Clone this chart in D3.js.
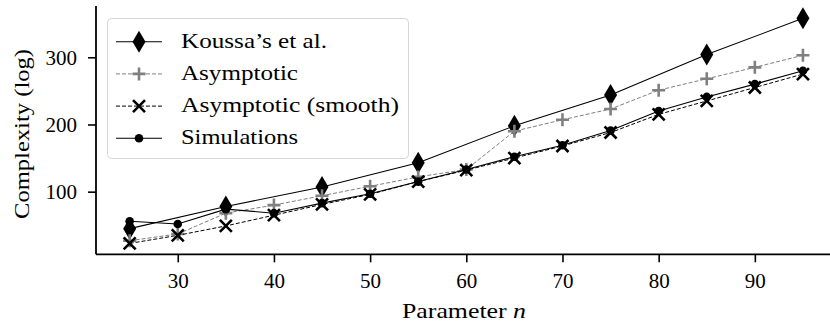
<!DOCTYPE html>
<html>
<head>
<meta charset="utf-8">
<style>
  body { margin: 0; background: #fff; }
  svg { display: block; }
  text { font-family: "Liberation Serif", "DejaVu Serif", serif; fill: #000; }
</style>
<script src="https://d3js.org/d3.v7.min.js"></script>
</head>
<body>
<svg id="chart" width="830" height="327"></svg>
<script>
// data
var nAll = [25, 30, 35, 40, 45, 50, 55, 60, 65, 70, 75, 80, 85, 90, 95];
var nKoussa = [25, 35, 45, 55, 65, 75, 85, 95];
var koussa = [45, 78, 107, 143, 198, 244, 304, 358];
var asymptotic = [27, 37, 68, 80, 94, 108, 122, 133, 190, 207, 223, 251, 268, 285, 303];
var asymSmooth = [23, 35, 49, 65, 81, 96, 115, 132, 150, 168, 188, 215, 235, 255, 275];
var simulations = [56, 52, 74, 68, 83, 97, 115, 133, 152, 169, 191, 220, 241, 260, 280];
var xTicks = [30, 40, 50, 60, 70, 80, 90];
var yTicks = [100, 200, 300];
var seriesNames = ["Koussa\u2019s et al.", "Asymptotic", "Asymptotic (smooth)", "Simulations"];
var nameWidths = [146, 117, 218, 117];

var FS = "21px";
var svg = d3.select("#chart");

var x = d3.scaleLinear().domain([21.5, 98.5]).range([96, 836.6]);
var y = d3.scaleLinear().domain([6.8, 376.3]).range([254.3, 6]);

// axes (left + bottom only)
var xAxis = svg.append("g")
    .attr("transform", "translate(0," + y.range()[0] + ")")
    .call(d3.axisBottom(x).tickValues(xTicks).tickSize(8).tickPadding(6).tickFormat(d3.format("d")));
var yAxis = svg.append("g")
    .attr("transform", "translate(" + x.range()[0] + ",0)")
    .call(d3.axisLeft(y).tickValues(yTicks).tickSize(8).tickPadding(11).tickFormat(d3.format("d")));

[xAxis, yAxis].forEach(function (a) {
    a.attr("font-family", null).attr("font-size", null);
    a.select(".domain").attr("stroke", "#000").attr("stroke-width", 1.8);
    a.selectAll(".tick line").attr("stroke", "#000").attr("stroke-width", 1.6);
    a.selectAll(".tick text").style("font-size", FS);
});
xAxis.selectAll(".tick text").attr("y", 34).attr("dy", null);
yAxis.select(".domain").attr("d", "M0," + y.range()[0] + "V" + y.range()[1]);
xAxis.select(".domain").attr("d", "M" + x.range()[0] + ",0H" + x.range()[1]);

svg.append("text")
    .attr("x", 464).attr("y", 318)
    .attr("text-anchor", "middle")
    .attr("textLength", 124).attr("lengthAdjust", "spacingAndGlyphs")
    .style("font-size", FS)
    .html("Parameter <tspan font-style='italic'>n</tspan>");

svg.append("text")
    .attr("transform", "translate(29,134) rotate(-90)")
    .attr("text-anchor", "middle")
    .attr("textLength", 170).attr("lengthAdjust", "spacingAndGlyphs")
    .style("font-size", FS)
    .text("Complexity (log)");

// marker painters
function diamond(g, cx, cy) {
    g.append("path")
        .attr("d", "M" + cx + "," + (cy - 11) + "L" + (cx + 6.5) + "," + cy + "L" + cx + "," + (cy + 11) + "L" + (cx - 6.5) + "," + cy + "Z")
        .attr("fill", "#000");
}
function plus(g, cx, cy) {
    g.append("path")
        .attr("d", "M" + (cx - 6.5) + "," + cy + "H" + (cx + 6.5) + "M" + cx + "," + (cy - 6.5) + "V" + (cy + 6.5))
        .attr("stroke", "#808080").attr("stroke-width", 2.6).attr("fill", "none");
}
function cross(g, cx, cy) {
    g.append("path")
        .attr("d", "M" + (cx - 6) + "," + (cy - 6) + "L" + (cx + 6) + "," + (cy + 6) + "M" + (cx - 6) + "," + (cy + 6) + "L" + (cx + 6) + "," + (cy - 6))
        .attr("stroke", "#000").attr("stroke-width", 2.6).attr("fill", "none");
}
function dot(g, cx, cy) {
    g.append("circle").attr("cx", cx).attr("cy", cy).attr("r", 4.3).attr("fill", "#000");
}

var series = [
    { xs: nKoussa, ys: koussa, stroke: "#000", dash: null, width: 1.1, mark: diamond },
    { xs: nAll, ys: asymptotic, stroke: "#808080", dash: "4,2", width: 1, mark: plus },
    { xs: nAll, ys: asymSmooth, stroke: "#000", dash: "4,2", width: 1, mark: cross },
    { xs: nAll, ys: simulations, stroke: "#000", dash: null, width: 1.1, mark: dot }
];

var plot = svg.append("g");
var line = d3.line().x(function (d) { return x(d[0]); }).y(function (d) { return y(d[1]); });

series.forEach(function (s) {
    var pts = s.xs.map(function (v, i) { return [v, s.ys[i]]; });
    var g = plot.append("g");
    g.append("path").datum(pts)
        .attr("d", line)
        .attr("fill", "none")
        .attr("stroke", s.stroke)
        .attr("stroke-width", s.width)
        .attr("stroke-dasharray", s.dash);
    pts.forEach(function (p) { s.mark(g, x(p[0]), y(p[1])); });
});

// legend
var leg = svg.append("g");
leg.append("rect")
    .attr("x", 107.5).attr("y", 18.5).attr("width", 301).attr("height", 140)
    .attr("rx", 4).attr("fill", "#fff").attr("fill-opacity", 0.8)
    .attr("stroke", "#d6d6d6").attr("stroke-width", 1);

series.forEach(function (s, i) {
    var cy = 41.7 + i * 32.2;
    var g = leg.append("g");
    g.append("path")
        .attr("d", "M116," + cy + "H162")
        .attr("stroke", s.stroke).attr("stroke-width", s.width)
        .attr("stroke-dasharray", s.dash).attr("fill", "none");
    s.mark(g, 139, cy);
    g.append("text")
        .attr("x", 181).attr("y", cy + 6)
        .attr("textLength", nameWidths[i]).attr("lengthAdjust", "spacingAndGlyphs")
        .style("font-size", FS)
        .text(seriesNames[i]);
});
</script>
</body>
</html>
